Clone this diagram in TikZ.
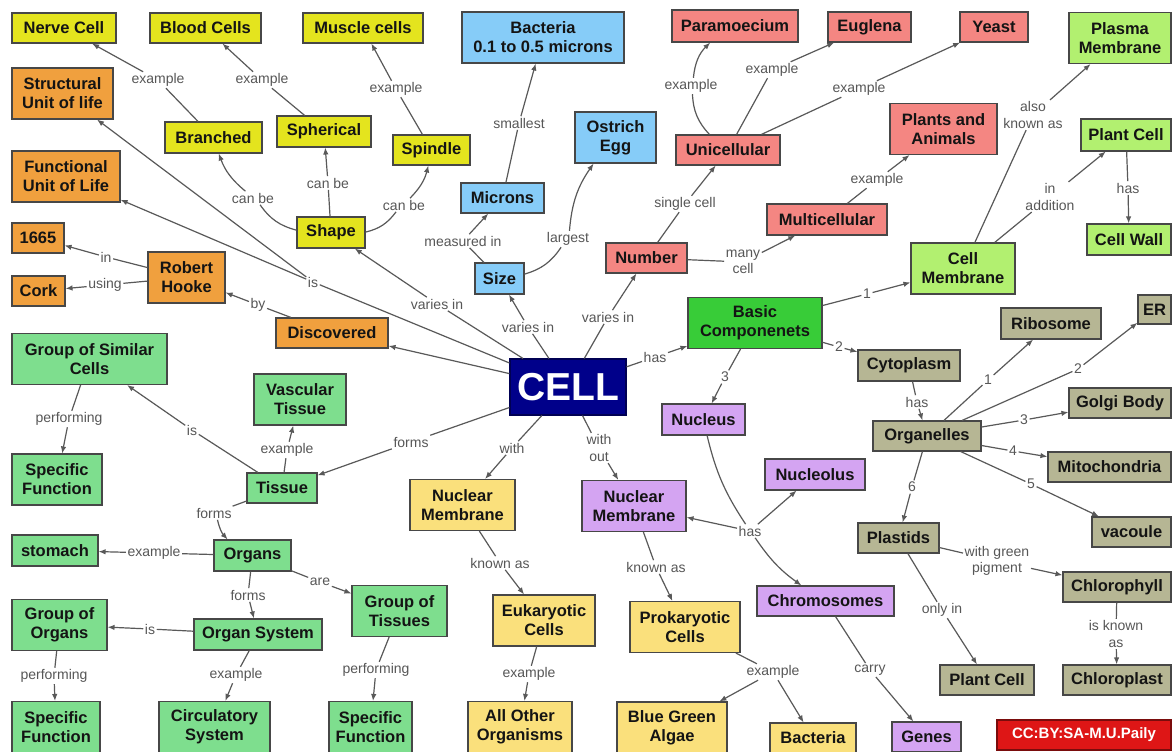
\documentclass[tikz,border=0pt]{standalone}
\usepackage{fontspec}
\setmainfont{Liberation Sans}
\usetikzlibrary{arrows.meta}
\definecolor{cyel}{RGB}{228,228,30}
\definecolor{corange}{RGB}{240,160,62}
\definecolor{cblue}{RGB}{134,204,248}
\definecolor{cpink}{RGB}{244,134,130}
\definecolor{clime}{RGB}{178,240,112}
\definecolor{cbright}{RGB}{56,204,56}
\definecolor{colive}{RGB}{182,182,148}
\definecolor{cpurple}{RGB}{212,164,242}
\definecolor{ctissue}{RGB}{126,222,142}
\definecolor{cpale}{RGB}{250,224,124}
\definecolor{cnavy}{RGB}{0,0,138}
\definecolor{cred}{RGB}{222,22,22}

\begin{document}
\begin{tikzpicture}[
    x=1pt, y=-1pt,
    concept/.style={draw=black!72, line width=1.1pt, font=\bfseries\fontsize{16.5}{19}\selectfont, text=black!92, align=center, inner sep=2pt, minimum height=30},
    tall/.style={minimum height=51},
    yelbox/.style={concept, fill=cyel},
    orbox/.style={concept, fill=corange},
    bluebox/.style={concept, fill=cblue},
    pinkbox/.style={concept, fill=cpink},
    limebox/.style={concept, fill=clime},
    olivebox/.style={concept, fill=colive},
    purbox/.style={concept, fill=cpurple},
    tisbox/.style={concept, fill=ctissue},
    palebox/.style={concept, fill=cpale},
    link/.style={font=\fontsize{14}{16.5}\selectfont, text=black!66, align=center, inner sep=1.5pt},
    conn/.style={draw=black!65, line width=1.2pt},
    arr/.style={conn, -{Latex[length=7pt,width=5.5pt]}}
]
    % canvas
    \fill[white] (0,0) rectangle (1173,752);
    \useasboundingbox (0,0) rectangle (1173,752);

    % centre
    \node[concept, fill=cnavy, draw=cnavy!60!black, text=white, font=\bfseries\fontsize{39}{40}\selectfont, minimum width=116, minimum height=56] (cell) at (568,387) {CELL};

    % shapes
    \node[yelbox, minimum width=104] (nerve) at (64,28) {Nerve Cell};
    \node[yelbox, minimum width=111] (blood) at (205.5,28) {Blood Cells};
    \node[yelbox, minimum width=120] (muscle) at (363,28) {Muscle cells};
    \node[yelbox, minimum width=97, minimum height=31] (branched) at (213.5,137.5) {Branched};
    \node[yelbox, minimum width=94, minimum height=31] (spherical) at (324,131.5) {Spherical};
    \node[yelbox, minimum width=77] (spindle) at (431.5,150) {Spindle};
    \node[yelbox, minimum width=68, minimum height=31] (shape) at (331,232.5) {Shape};

    % history
    \node[orbox, tall, minimum width=101] (structural) at (62.5,93.5) {Structural\\Unit of life};
    \node[orbox, tall, minimum width=108] (functional) at (66,176.5) {Functional\\Unit of Life};
    \node[orbox, minimum width=52] (year) at (38,238) {1665};
    \node[orbox, minimum width=53] (cork) at (38.5,291) {Cork};
    \node[orbox, tall, minimum width=77] (hooke) at (186.5,277.5) {Robert\\Hooke};
    \node[orbox, minimum width=112] (discovered) at (332,333) {Discovered};

    % size
    \node[bluebox, tall, minimum width=162] (bacteria) at (543,37.5) {Bacteria\\0.1 to 0.5 microns};
    \node[bluebox, tall, minimum width=81] (ostrich) at (615.5,137.5) {Ostrich\\Egg};
    \node[bluebox, minimum width=83] (microns) at (502.5,198) {Microns};
    \node[bluebox, minimum width=49, minimum height=31] (size) at (499.5,278.5) {Size};

    % number
    \node[pinkbox, minimum width=126, minimum height=32] (paramoecium) at (735,26) {Paramoecium};
    \node[pinkbox, minimum width=83] (euglena) at (869.5,27) {Euglena};
    \node[pinkbox, minimum width=68] (yeast) at (994,27) {Yeast};
    \node[pinkbox, minimum width=104] (unicellular) at (728,150) {Unicellular};
    \node[pinkbox, tall, minimum width=107] (plants) at (943.5,129) {Plants and\\Animals};
    \node[pinkbox, minimum width=120, minimum height=31] (multi) at (827,219.5) {Multicellular};
    \node[pinkbox, minimum width=81] (number) at (646.5,258) {Number};

    % membrane
    \node[limebox, tall, minimum width=102] (plasma) at (1120,38) {Plasma\\Membrane};
    \node[limebox, minimum width=90, minimum height=32] (plantA) at (1126,135) {Plant Cell};
    \node[limebox, minimum width=84, minimum height=31] (cellwall) at (1129,239.5) {Cell Wall};
    \node[limebox, tall, minimum width=104] (cellmem) at (963,268.5) {Cell\\Membrane};
    \node[concept, fill=cbright, tall, minimum width=134] (basic) at (755,323) {Basic\\Componenets};

    % cytoplasm
    \node[olivebox, minimum width=100, minimum height=31] (ribosome) at (1051,323.5) {Ribosome};
    \node[olivebox, minimum width=33, minimum height=29] (er) at (1154.5,309.5) {ER};
    \node[olivebox, minimum width=102, minimum height=31] (cytoplasm) at (909,365.5) {Cytoplasm};
    \node[olivebox, minimum width=102] (golgi) at (1120,403) {Golgi Body};
    \node[olivebox, minimum width=108] (organelles) at (927,436) {Organelles};
    \node[olivebox, minimum width=123] (mito) at (1109.5,467) {Mitochondria};
    \node[olivebox, minimum width=79] (vacoule) at (1131.5,532) {vacoule};
    \node[olivebox, minimum width=81] (plastids) at (898.5,538) {Plastids};
    \node[olivebox, minimum width=108] (chlorophyll) at (1117,587) {Chlorophyll};
    \node[olivebox, minimum width=108] (chloroplast) at (1117,680) {Chloroplast};
    \node[olivebox, minimum width=94] (plantB) at (987,680) {Plant Cell};

    % nucleus
    \node[purbox, minimum width=83, minimum height=31] (nucleus) at (703.5,419.5) {Nucleus};
    \node[purbox, minimum width=100, minimum height=31] (nucleolus) at (815,474.5) {Nucleolus};
    \node[purbox, tall, minimum width=104] (nmPur) at (634,506) {Nuclear\\Membrane};
    \node[purbox, minimum width=137] (chromo) at (825.5,601) {Chromosomes};
    \node[purbox, minimum width=69] (genes) at (926.5,737) {Genes};

    % cell types
    \node[palebox, tall, minimum width=105] (nmYel) at (462.5,505) {Nuclear\\Membrane};
    \node[palebox, tall, minimum width=102] (eukaryotic) at (544,620.5) {Eukaryotic\\Cells};
    \node[palebox, tall, minimum width=110] (prokaryotic) at (685,627) {Prokaryotic\\Cells};
    \node[palebox, tall, minimum width=104] (allother) at (520,727) {All Other\\Organisms};
    \node[palebox, tall, minimum width=110] (bluegreen) at (672,727.5) {Blue Green\\Algae};
    \node[palebox, minimum width=86] (bacteriaB) at (813,738) {Bacteria};

    % tissues and organs
    \node[tisbox, tall, minimum width=155] (similar) at (89.5,359) {Group of Similar\\Cells};
    \node[tisbox, tall, minimum width=92] (vascular) at (300,399.5) {Vascular\\Tissue};
    \node[tisbox, tall, minimum width=90] (sfA) at (57,479.5) {Specific\\Function};
    \node[tisbox, minimum width=70] (tissue) at (282,488) {Tissue};
    \node[tisbox, minimum width=86, minimum height=31] (stomach) at (55,550.5) {stomach};
    \node[tisbox, minimum width=77, minimum height=31] (organs) at (252.5,555.5) {Organs};
    \node[tisbox, tall, minimum width=95] (groupOrg) at (59.5,625) {Group of\\Organs};
    \node[tisbox, minimum width=128, minimum height=31] (orgsys) at (258,634.5) {Organ System};
    \node[tisbox, tall, minimum width=95] (groupTis) at (399.5,611) {Group of\\Tissues};
    \node[tisbox, tall, minimum width=88] (sfB) at (56,727) {Specific\\Function};
    \node[tisbox, tall, minimum width=111] (circ) at (214.5,727) {Circulatory\\System};
    \node[tisbox, tall, minimum width=83] (sfC) at (370.5,727) {Specific\\Function};

    \node[concept, fill=cred, draw=cred!55!black, text=white, font=\bfseries\fontsize{15}{17}\selectfont, minimum width=174] (licence) at (1084,735) {CC:BY:SA-M.U.Paily};

    % link labels
    \node[link] (exNerve) at (158,80) {example};
    \node[link] (exBlood) at (262,80) {example};
    \node[link] (exMuscle) at (396,89) {example};
    \node[link] (cbBranch) at (253,198) {can be};
    \node[link] (cbSpher) at (328,183) {can be};
    \node[link] (cbSpin) at (404,205) {can be};
    \node[link] (varShape) at (437,304) {varies in};
    \node[link] (varSize) at (528,327) {varies in};
    \node[link] (varNum) at (608,317) {varies in};
    \node[link] (measured) at (463,241) {measured in};
    \node[link] (largest) at (568,239) {largest};
    \node[link] (smallest) at (519,123) {smallest};
    \node[link] (single) at (685,204) {single cell};
    \node[link] (many) at (743,262) {many\\cell};
    \node[link] (exPara) at (691,86) {example};
    \node[link] (exEug) at (772,70) {example};
    \node[link] (exYeast) at (859,89) {example};
    \node[link] (exPlants) at (877,180) {example};
    \node[link] (aka) at (1033,115) {also\\known as};
    \node[link] (inAdd) at (1050,197) {in\\addition};
    \node[link] (hasWall) at (1128,188) {has};
    \node[link] (oneMem) at (867,294) {1};
    \node[link] (twoCyto) at (839,347) {2};
    \node[link] (threeNuc) at (725,377) {3};
    \node[link] (hasBasic) at (655,357) {has};
    \node[link] (hasOrg) at (917,402) {has};
    \node[link] (oneRibo) at (988,380) {1};
    \node[link] (twoER) at (1078,369) {2};
    \node[link] (threeGolgi) at (1024,420) {3};
    \node[link] (fourMito) at (1013,451) {4};
    \node[link] (fiveVac) at (1031,484) {5};
    \node[link] (sixPlast) at (912,487) {6};
    \node[link] (greenPig) at (997,561) {with green\\pigment};
    \node[link] (onlyIn) at (942,610) {only in};
    \node[link] (iskn) at (1116,634) {is known\\as};
    \node[link] (hasNuc) at (750,531) {has};
    \node[link] (carry) at (870,670) {carry};
    \node[link] (withNM) at (512,448) {with};
    \node[link] (withoutNM) at (599,448) {with\\out};
    \node[link] (knEuk) at (500,563) {known as};
    \node[link] (knProk) at (656,567) {known as};
    \node[link] (exAll) at (529,674) {example};
    \node[link] (exProk) at (773,672) {example};
    \node[link] (formsTis) at (411,442) {forms};
    \node[link] (isUnit) at (313,282) {is};
    \node[link] (by) at (258,305) {by};
    \node[link] (inYear) at (106,257) {in};
    \node[link] (using) at (105,285) {using};
    \node[link] (isGroup) at (192,430) {is};
    \node[link] (exVasc) at (287,450) {example};
    \node[link] (perfA) at (69,419) {performing};
    \node[link] (formsOrg) at (214,513) {forms};
    \node[link] (exStom) at (154,553) {example};
    \node[link] (formsSys) at (248,595) {forms};
    \node[link] (are) at (320,582) {are};
    \node[link] (isOrg) at (150,629) {is};
    \node[link] (perfB) at (54,676) {performing};
    \node[link] (exCirc) at (236,675) {example};
    \node[link] (perfC) at (376,670) {performing};

    % straight links
    \foreach \a/\l/\b in {
        branched/exNerve/nerve, spherical/exBlood/blood, spindle/exMuscle/muscle,
        shape/cbSpher/spherical, cell/varShape/shape, cell/varSize/size,
        cell/varNum/number, size/measured/microns, microns/smallest/bacteria,
        number/single/unicellular, number/many/multi, unicellular/exEug/euglena,
        unicellular/exYeast/yeast, multi/exPlants/plants, cellmem/aka/plasma,
        cellmem/inAdd/plantA, plantA/hasWall/cellwall, basic/oneMem/cellmem,
        basic/twoCyto/cytoplasm, basic/threeNuc/nucleus, cell/hasBasic/basic,
        cytoplasm/hasOrg/organelles, organelles/oneRibo/ribosome, organelles/twoER/er,
        organelles/threeGolgi/golgi, organelles/fourMito/mito, organelles/fiveVac/vacoule,
        organelles/sixPlast/plastids, plastids/greenPig/chlorophyll, plastids/onlyIn/plantB,
        chlorophyll/iskn/chloroplast, chromo/carry/genes, cell/withNM/nmYel,
        cell/withoutNM/nmPur, nmYel/knEuk/eukaryotic, nmPur/knProk/prokaryotic,
        eukaryotic/exAll/allother, cell/formsTis/tissue, discovered/by/hooke,
        hooke/inYear/year, hooke/using/cork, tissue/isGroup/similar,
        tissue/exVasc/vascular, similar/perfA/sfA, organs/exStom/stomach,
        organs/formsSys/orgsys, organs/are/groupTis, orgsys/isOrg/groupOrg,
        groupOrg/perfB/sfB, orgsys/exCirc/circ, groupTis/perfC/sfC} {
        \draw[conn] (\a) -- (\l);
        \draw[arr] (\l) -- (\b);
    }

    % curved links
    \draw[conn] (shape) to[bend left=20] (cbBranch);
    \draw[arr] (cbBranch) to[bend left=15] (branched);
    \draw[conn] (shape) to[bend right=20] (cbSpin);
    \draw[arr] (cbSpin) to[bend right=15] (spindle);
    \draw[conn] (size) to[bend right=20] (largest);
    \draw[arr] (largest) to[bend left=15] (ostrich);
    \draw[conn] (unicellular) to[bend left=20] (exPara);
    \draw[arr] (exPara) to[bend left=20] (paramoecium);
    \draw[conn] (tissue) -- (formsOrg);
    \draw[arr] (formsOrg) to[bend right=15] (organs);

    % shared labels
    \draw[conn] (cell) -- (isUnit);
    \draw[arr] (isUnit) -- (structural);
    \draw[arr] (isUnit) -- (functional);
    \draw[arr] (cell) -- (discovered);
    \draw[conn] (nucleus) to[bend right=10] (hasNuc);
    \draw[arr] (hasNuc) -- (nmPur);
    \draw[arr] (hasNuc) -- (nucleolus);
    \draw[arr] (hasNuc) to[bend right=10] (chromo);
    \draw[conn] (prokaryotic) -- (exProk);
    \draw[arr] (exProk) -- (bluegreen);
    \draw[arr] (exProk) -- (bacteriaB);
\end{tikzpicture}
\end{document}
